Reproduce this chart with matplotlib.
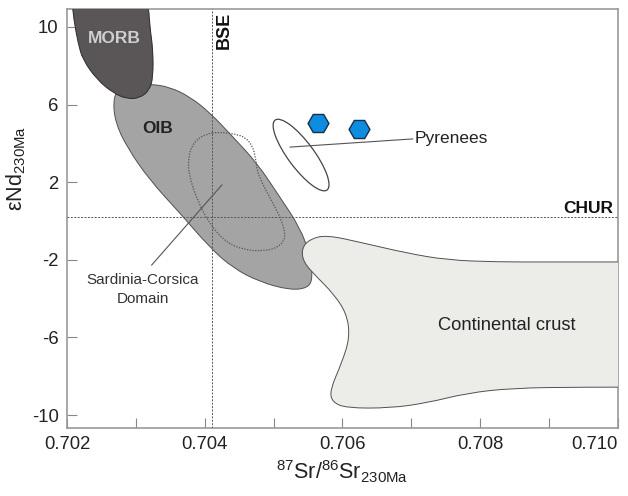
import matplotlib
matplotlib.use("Agg")
import matplotlib.pyplot as plt
from matplotlib.path import Path
from matplotlib.patches import PathPatch, Circle
from matplotlib.transforms import Affine2D
from matplotlib.ticker import MultipleLocator
import numpy as np

plt.rcParams['font.family'] = ['Liberation Sans', 'DejaVu Sans']
plt.rcParams['mathtext.fontset'] = 'custom'
plt.rcParams['mathtext.rm'] = 'Liberation Sans'
plt.rcParams['mathtext.it'] = 'Liberation Sans:italic'
plt.rcParams['axes.unicode_minus'] = False

# field outlines (87Sr/86Sr, eNd)
morb_sr = [0.70207, 0.70210, 0.70216, 0.70223, 0.70244, 0.70267, 0.70287, 0.70306,
           0.70320, 0.70325, 0.70325, 0.70320, 0.70318]
morb_nd = [11.39, 10.36, 9.18, 8.30, 7.27, 6.60, 6.29, 6.34, 6.75, 7.42, 8.81, 10.10, 11.39]

oib_sr = [0.70267, 0.70274, 0.70291, 0.70320, 0.70349, 0.70379, 0.70408, 0.70441, 0.70476,
          0.70509, 0.70538, 0.70553, 0.70557, 0.70550, 0.70524, 0.70480, 0.70441, 0.70408,
          0.70364, 0.70320, 0.70287, 0.70270]
oib_nd = [6.24, 6.75, 7.01, 7.06, 6.91, 6.39, 5.57, 4.33, 2.99, 1.24, -0.31, -1.75, -2.94,
          -3.45, -3.56, -3.14, -2.42, -1.39, 0.41, 2.11, 3.81, 5.10]

sc_sr = [0.70422, 0.70444, 0.70458, 0.70469, 0.70474, 0.70477, 0.70499, 0.70513, 0.70518,
         0.70506, 0.70483, 0.70458, 0.70432, 0.70408, 0.70389, 0.70377, 0.70376, 0.70383, 0.70400]
sc_nd = [4.59, 4.48, 4.33, 3.92, 3.25, 2.37, 0.93, -0.05, -0.88, -1.39, -1.55, -1.49, -1.13,
         -0.21, 1.08, 2.37, 3.25, 4.02, 4.48]

cc_sr = [0.70563, 0.70543, 0.70541, 0.70553, 0.70577, 0.70630, 0.70693, 0.70752, 0.70824,
         0.70897, 0.71110, 0.71110, 0.70945, 0.70847, 0.70781, 0.70722, 0.70669, 0.70606,
         0.70585, 0.70582, 0.70599, 0.70611, 0.70606, 0.70586]
cc_nd = [-2.89, -2.11, -1.39, -0.93, -0.72, -1.13, -1.65, -2.01, -2.11, -2.11, -2.11, -8.56,
         -8.56, -8.61, -8.87, -9.38, -9.64, -9.64, -9.33, -8.71, -7.32, -5.98, -4.74, -3.71]

# Pyrenees field: centre and semi-axes
pyr_centre = (0.70540, 3.40)
pyr_major = (-0.000377, 1.80)
pyr_minor = (0.000151, 0.40)

# samples
sample_sr = [0.70564, 0.70624]
sample_nd = [5.05, 4.74]

BSE_SR = 0.70410
CHUR_ND = 0.2

xtick_vals = [0.702, 0.704, 0.706, 0.708, 0.710]
xtick_labels = ['0.702', '0.704', '0.706', '0.708', '0.710']
ytick_vals = [-10, -6, -2, 2, 6, 10]


def smooth_patch(xs, ys, **kw):
    # closed quadratic-bezier outline, points act as control points
    pts = np.column_stack([xs, ys])
    n = len(pts)
    verts = []
    codes = []
    for i in range(n):
        p = pts[i]
        q = pts[(i + 1) % n]
        m = (p + q) / 2
        if i == 0:
            verts.append((pts[-1] + p) / 2)
            codes.append(Path.MOVETO)
        verts.append(p)
        verts.append(m)
        codes += [Path.CURVE3, Path.CURVE3]
    return PathPatch(Path(np.array(verts), codes), **kw)


fig = plt.figure(figsize=(6.28, 4.96), dpi=100)
ax = fig.add_axes([0.1067, 0.137, 0.877, 0.845])

ax.add_patch(smooth_patch(oib_sr, oib_nd, fc='#a4a4a4', ec='#505050', lw=0.7, zorder=2))
ax.add_patch(smooth_patch(sc_sr, sc_nd, fc='none', ec='#555555', lw=0.9, ls=(0, (1, 1.2)), zorder=3))
ax.add_patch(smooth_patch(morb_sr, morb_nd, fc='#5a5657', ec='#2b2b2b', lw=0.7, zorder=4))
ax.add_patch(smooth_patch(cc_sr, cc_nd, fc='#ecece8', ec='#505050', lw=0.7, zorder=4))

ell = Circle((0, 0), 1, fc='none', ec='#444444', lw=0.9, zorder=5)
ell.set_transform(Affine2D().from_values(pyr_major[0], pyr_major[1], pyr_minor[0], pyr_minor[1],
                                         pyr_centre[0], pyr_centre[1]) + ax.transData)
ax.add_patch(ell)

ax.axvline(BSE_SR, color='#555555', lw=0.7, ls=(0, (2, 1.5)), zorder=3.5)
ax.axhline(CHUR_ND, color='#555555', lw=0.7, ls=(0, (2, 1.5)), zorder=3.5)

ax.plot(sample_sr, sample_nd, ls='none', marker='H', ms=15, mfc='#0e8ce0', mec='#1a2f4a',
        mew=1.0, zorder=6)

# leader lines
ax.plot([0.70524, 0.70702], [3.81, 4.23], color='#555555', lw=0.8, zorder=5)
ax.plot([0.70425, 0.70323], [1.86, -2.27], color='#555555', lw=0.8, zorder=5)

ax.text(0.70705, 4.23, 'Pyrenees', fontsize=12.5, va='center', ha='left', color='#222222')
ax.text(0.70310, -3.51, 'Sardinia-Corsica\nDomain', fontsize=11, ha='center', va='center',
        linespacing=1.45, color='#333333')
ax.text(0.70839, -5.36, 'Continental crust', fontsize=13.2, ha='center', va='center',
        color='#222222', zorder=6)
ax.text(0.70332, 4.79, 'OIB', fontsize=12.5, fontweight='bold', ha='center', va='center',
        color='#222222', zorder=6)
ax.text(0.70269, 9.43, 'MORB', fontsize=12.5, fontweight='bold', ha='center', va='center',
        color='#cfcfcf', zorder=6)
ax.text(0.70428, 9.8, 'BSE', fontsize=13, fontweight='bold', rotation=90, ha='center',
        va='center', color='#111111')
ax.text(0.70993, 0.62, 'CHUR', fontsize=12.5, fontweight='bold', ha='right', va='center',
        color='#111111')

ax.set_xlim(0.702, 0.710)
ax.set_ylim(-10.67, 10.93)
ax.set_xticks(xtick_vals)
ax.set_xticklabels(xtick_labels)
ax.get_xticklabels()[-1].set_horizontalalignment('right')
ax.get_xticklabels()[-1].set_x(0.71002)
ax.xaxis.set_minor_locator(MultipleLocator(0.001))
ax.set_yticks(ytick_vals)
ax.tick_params(direction='in', length=7, width=0.8, color='#888888', labelsize=13.3,
               labelcolor='#222222', pad=6)
ax.tick_params(which='minor', direction='in', length=7, width=0.8, color='#888888')
for s in ax.spines.values():
    s.set_color('#999999')
    s.set_linewidth(1.2)

ax.set_xlabel(r'$^{87}$Sr/$^{86}$Sr$_{230\mathrm{Ma}}$', fontsize=15.5, color='#222222', labelpad=4)
ax.set_ylabel('εNd' + r'$_{230\mathrm{Ma}}$', fontsize=15.5, color='#222222')
ax.yaxis.set_label_coords(-0.07, 0.62)

fig.savefig('out.png', dpi=100)
